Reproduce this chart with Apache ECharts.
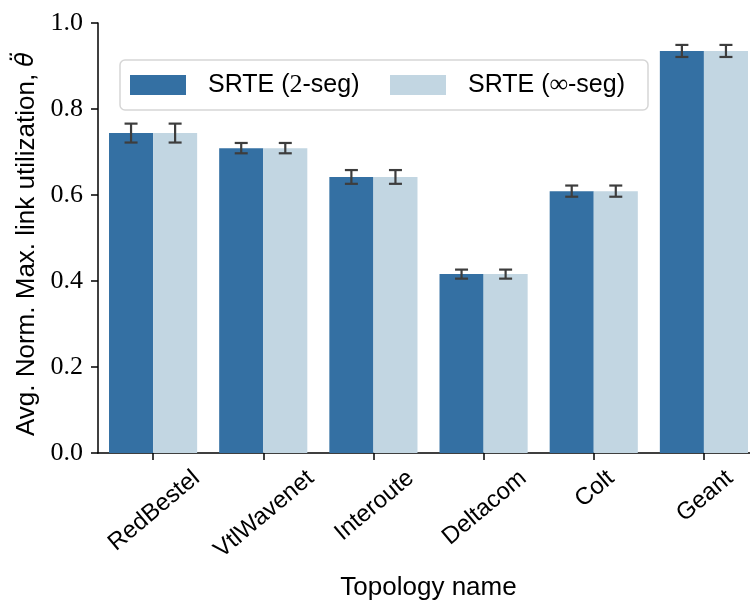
<!DOCTYPE html>
<html>
<head>
<meta charset="utf-8">
<script src="https://cdn.jsdelivr.net/npm/echarts@6/dist/echarts.min.js"></script>
<style>html,body{margin:0;padding:0;background:#fff}#c{width:750px;height:604px}</style>
</head>
<body>
<div id="c"></div>
<script>
// ---- data ----
const categories = ['RedBestel', 'VtlWavenet', 'Interoute', 'Deltacom', 'Colt', 'Geant'];
const seriesNames = ['SRTE (2-seg)', 'SRTE (\u221e-seg)'];
const values2seg = [0.744, 0.709, 0.642, 0.416, 0.609, 0.935];
const valuesInfSeg = [0.744, 0.709, 0.642, 0.416, 0.609, 0.935];
const err2seg = [0.022, 0.012, 0.016, 0.0105, 0.013, 0.014];
const errInfSeg = [0.022, 0.012, 0.016, 0.0105, 0.013, 0.014];
const yTicks = [0.0, 0.2, 0.4, 0.6, 0.8, 1.0];

// ---- style ----
const SANS = '"Liberation Sans", Arial, sans-serif';
const SERIF = '"Liberation Serif", "DejaVu Serif", serif';
const C_DARK = '#3470a3';
const C_LIGHT = '#c2d6e2';
const ERR_C = '#3d3d3d';
const LABEL_FS = 25;
const XLAB_FS = 24;
const ROT = 40 * Math.PI / 180;

const mctx = document.createElement('canvas').getContext('2d');
mctx.font = XLAB_FS + 'px ' + SANS;
function textW(t) { return mctx.measureText(t).width; }

function errRender(offsetSign, errs) {
  return function (params, api) {
    const i = api.value(0), v = api.value(1), e = errs[params.dataIndex];
    const band = api.size([1, 0])[0];
    const c = api.coord([i, v]);
    const x = c[0] + offsetSign * band * 0.2;
    const yt = api.coord([i, v + e])[1];
    const yb = api.coord([i, v - e])[1];
    const cw = 6.5;
    const st = { stroke: ERR_C, lineWidth: 2.2 };
    return {
      type: 'group',
      children: [
        { type: 'line', shape: { x1: x, y1: yt, x2: x, y2: yb }, style: st },
        { type: 'line', shape: { x1: x - cw, y1: yt, x2: x + cw, y2: yt }, style: st },
        { type: 'line', shape: { x1: x - cw, y1: yb, x2: x + cw, y2: yb }, style: st }
      ]
    };
  };
}

function labelRender(params, api) {
  const i = api.value(0);
  const c = api.coord([i, 0]);
  const t = categories[params.dataIndex];
  const w = textW(t);
  const h = XLAB_FS * 0.78;
  const H = w * Math.sin(ROT) + h * Math.cos(ROT);
  return {
    type: 'text',
    x: c[0] + 1,
    y: c[1] + 15 + H / 2,
    rotation: ROT,
    style: {
      text: t,
      fontSize: XLAB_FS,
      fontFamily: SANS,
      fill: '#000',
      align: 'center',
      verticalAlign: 'middle'
    }
  };
}

const chart = echarts.init(document.getElementById('c'), null, { renderer: 'canvas' });
chart.setOption({
  animation: false,
  backgroundColor: '#fff',
  grid: { left: 98, top: 23, width: 661, height: 430, containLabel: false, outerBoundsMode: 'none' },
  legend: {
    left: 120, top: 60,
    padding: [12, 10, 12, 10],
    itemWidth: 56, itemHeight: 20, itemGap: 22,
    borderColor: '#d6d6d6', borderWidth: 1.5, borderRadius: 5,
    backgroundColor: 'rgba(255,255,255,0.8)',
    icon: 'rect',
    data: [
      { name: seriesNames[0], textStyle: { width: 160 } },
      { name: seriesNames[1], textStyle: { width: 170 } }
    ],
    formatter: function (n) {
      return n.replace('2', '{m|2}').replace('\u221e', '{m|\u221e}');
    },
    textStyle: {
      fontFamily: SANS, fontSize: LABEL_FS, color: '#000', lineHeight: 24,
      padding: [0, 0, 0, 17],
      rich: { m: { fontFamily: SERIF, fontSize: 26, color: '#000' } }
    }
  },
  xAxis: {
    type: 'category',
    data: categories,
    name: 'Topology name',
    nameLocation: 'middle',
    nameGap: 122,
    nameTextStyle: { fontFamily: SANS, fontSize: 26, color: '#000' },
    axisLine: { lineStyle: { color: '#000', width: 1.5 } },
    axisTick: { show: true, alignWithLabel: true, length: 7, lineStyle: { color: '#000', width: 1.5 } },
    axisLabel: { show: false },
    splitLine: { show: false }
  },
  yAxis: {
    type: 'value',
    min: 0, max: 1, interval: 0.2,
    name: 'Avg. Norm. Max. link utilization, {t|\u03b8\u0308}',
    nameLocation: 'middle',
    nameGap: 56,
    nameTextStyle: {
      fontFamily: SANS, fontSize: 26, color: '#000',
      padding: [0, 12, 0, 0],
      rich: { t: { fontFamily: '"DejaVu Sans", sans-serif', fontStyle: 'italic', fontSize: 24, color: '#000' } }
    },
    axisLine: { show: true, lineStyle: { color: '#000', width: 1.5 } },
    axisTick: { show: true, length: 7, lineStyle: { color: '#000', width: 1.5 } },
    axisLabel: {
      margin: 15, fontFamily: SERIF, fontSize: 26, color: '#000',
      formatter: function (v) { return v.toFixed(1); }
    },
    splitLine: { show: false }
  },
  series: [
    {
      name: seriesNames[0], type: 'bar', data: values2seg,
      barGap: '0%', barCategoryGap: '20%',
      itemStyle: { color: C_DARK }
    },
    {
      name: seriesNames[1], type: 'bar', data: valuesInfSeg,
      barGap: '0%', barCategoryGap: '20%',
      itemStyle: { color: C_LIGHT }
    },
    {
      type: 'custom', silent: true, z: 5, clip: false,
      data: values2seg.map((v, i) => [i, v]),
      encode: { x: 0, y: 1 },
      renderItem: errRender(-1, err2seg)
    },
    {
      type: 'custom', silent: true, z: 5, clip: false,
      data: valuesInfSeg.map((v, i) => [i, v]),
      encode: { x: 0, y: 1 },
      renderItem: errRender(1, errInfSeg)
    },
    {
      type: 'custom', silent: true, z: 5, clip: false,
      data: categories.map((c, i) => [i, 0]),
      encode: { x: 0, y: 1 },
      renderItem: labelRender
    }
  ]
});
</script>
</body>
</html>
